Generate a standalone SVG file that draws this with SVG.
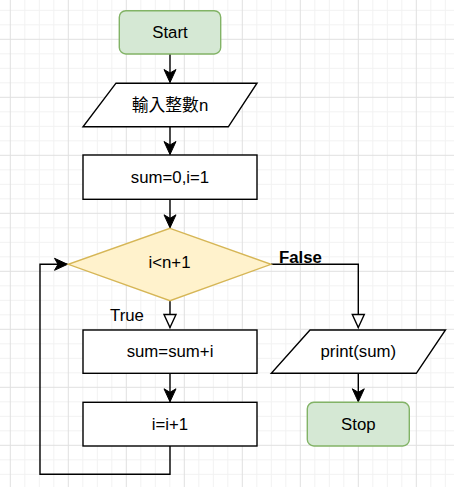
<svg xmlns="http://www.w3.org/2000/svg" width="454" height="487" viewBox="0 0 454 487">
<style>
.gmin{stroke:#f2f2f2;stroke-width:1;fill:none}
.gmaj{stroke:#e0e0e0;stroke-width:1;fill:none}
.box{fill:#fff;stroke:#000;stroke-width:1.4}
.term{fill:#d5e8d4;stroke:#82b366;stroke-width:1.4}
.dec{fill:#fff2cc;stroke:#d6b656;stroke-width:1.4}
.t{font-family:"Liberation Sans",Arial,"Noto Sans CJK TC",sans-serif;font-size:16.8px;fill:#000;text-anchor:middle}
.cjk{font-family:"Liberation Sans","Noto Sans CJK TC",sans-serif}
.lab{font-family:"Liberation Sans",Arial,sans-serif;font-size:16.8px;fill:#000}
.edge{fill:none;stroke:#000;stroke-width:1.4}
</style>
<defs>
<marker id="arr" viewBox="-14 -7 15 14" refX="0" refY="0" markerWidth="15" markerHeight="14" markerUnits="userSpaceOnUse" orient="auto">
<path d="M0,0 L-13,-6 L-9.5,0 L-13,6 Z" fill="#000" stroke="#000" stroke-width="1"/>
</marker>
<marker id="open" viewBox="-15 -8 17 16" refX="0" refY="0" markerWidth="17" markerHeight="16" markerUnits="userSpaceOnUse" orient="auto">
<path d="M0,0 L-13,-6 L-13,6 Z" fill="#fff" stroke="#000" stroke-width="1.4"/>
</marker>
</defs>
<rect width="454" height="487" fill="#fff"/>
<g id="grid">
<path class="gmin" d="M24.8 0v487M39.3 0v487M53.8 0v487M82.8 0v487M97.3 0v487M111.8 0v487M140.8 0v487M155.3 0v487M169.8 0v487M198.8 0v487M213.3 0v487M227.8 0v487M256.8 0v487M271.3 0v487M285.8 0v487M314.8 0v487M329.3 0v487M343.8 0v487M372.8 0v487M387.3 0v487M401.8 0v487M430.8 0v487M445.3 0v487M0 10.3h454M0 24.8h454M0 53.8h454M0 68.3h454M0 82.8h454M0 111.8h454M0 126.3h454M0 140.8h454M0 169.8h454M0 184.3h454M0 198.8h454M0 227.8h454M0 242.3h454M0 256.8h454M0 285.8h454M0 300.3h454M0 314.8h454M0 343.8h454M0 358.3h454M0 372.8h454M0 401.8h454M0 416.3h454M0 430.8h454M0 459.8h454M0 474.3h454"/>
<path class="gmaj" d="M10.3 0v487M68.3 0v487M126.3 0v487M184.3 0v487M242.3 0v487M300.3 0v487M358.3 0v487M416.3 0v487M0 39.3h454M0 97.3h454M0 155.3h454M0 213.3h454M0 271.3h454M0 329.3h454M0 387.3h454M0 445.3h454"/>
</g>
<g id="connectors">
<path class="edge" d="M170,54 V82.5" marker-end="url(#arr)"/>
<path class="edge" d="M170,127 V154.5" marker-end="url(#arr)"/>
<path class="edge" d="M170,199.3 V227.8" marker-end="url(#arr)"/>
<path class="edge" d="M170,300.7 V327.5" marker-end="url(#open)"/>
<path class="edge" d="M271,264.3 H358.3 V327.5" marker-end="url(#open)"/>
<path class="edge" d="M170,373.3 V401.8" marker-end="url(#arr)"/>
<path class="edge" d="M358.3,373.3 V401.8" marker-end="url(#arr)"/>
<path class="edge" d="M170,446 V474.3 H40 V264.3 H67.5" marker-end="url(#arr)"/>
<text class="lab" x="279" y="262.5" font-weight="bold">False</text>
<text class="lab" x="110" y="320.7">True</text>
</g>
<g id="start">
<rect class="term" x="119.3" y="10.7" width="101.4" height="43.3" rx="6.5"/>
<text class="t" x="170" y="38">Start</text>
</g>
<g id="input">
<polygon class="box" points="116,83.2 257,83.2 228.3,126.8 83,126.8"/>
<text class="t cjk" x="170" y="111">輸入整數n</text>
</g>
<g id="init">
<rect class="box" x="83" y="155" width="174" height="44.3"/>
<text class="t" x="170" y="183.3">sum=0,i=1</text>
</g>
<g id="cond">
<polygon class="dec" points="170,228.3 271,264.3 170,300.7 68.3,264.3"/>
<text class="t" x="169.5" y="267.5">i&lt;n+1</text>
</g>
<g id="add">
<rect class="box" x="83" y="330" width="174" height="43.3"/>
<text class="t" x="170" y="356.7">sum=sum+i</text>
</g>
<g id="inc">
<rect class="box" x="83" y="402.3" width="174" height="43.7"/>
<text class="t" x="170" y="430">i=i+1</text>
</g>
<g id="print">
<polygon class="box" points="310,330 445.5,330 416.3,373.3 271.3,373.3"/>
<text class="t" x="358.3" y="356.7">print(sum)</text>
</g>
<g id="stop">
<rect class="term" x="307.3" y="402.3" width="102" height="43.7" rx="6.5"/>
<text class="t" x="358.3" y="430">Stop</text>
</g>
</svg>
